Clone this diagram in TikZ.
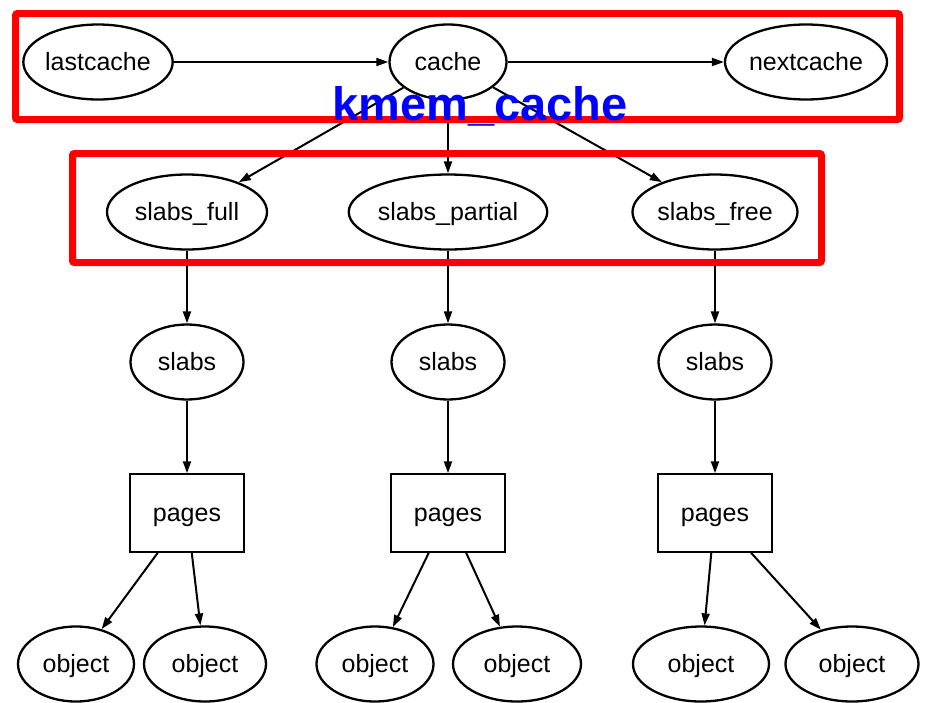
\documentclass[tikz,border=0pt]{standalone}
\usepackage{fontspec}
\setmainfont{Liberation Sans}
\usetikzlibrary{shapes.geometric,arrows.meta}
\definecolor{boxred}{RGB}{255,0,0}
\definecolor{textblue}{RGB}{0,0,255}
\begin{document}
\begin{tikzpicture}[x=1pt,y=-1pt,
  lbl/.style={inner sep=0pt,text height=20pt,text depth=3pt,font=\fontsize{25}{25}\selectfont},
  el/.style={lbl,ellipse,draw,line width=2.3pt,minimum height=75pt},
  pg/.style={lbl,rectangle,draw,line width=1.5pt,minimum width=114pt,minimum height=78pt},
  edge/.style={line width=2pt,-{Triangle[length=12pt,width=8pt]}},
  redbox/.style={draw=boxred,line width=7pt,rounded corners=2pt}]
\useasboundingbox (0,0) rectangle (935,702);
% top row
\node[el,minimum width=146pt] (last) at (98,62) {lastcache};
\node[el,minimum width=117pt] (cache) at (448,62) {cache};
\node[el,minimum width=162pt] (next) at (806,62) {nextcache};
% slabs lists
\node[el,minimum width=160pt] (sfull) at (187,212) {slabs\_full};
\node[el,minimum width=195pt] (spart) at (448,212) {slabs\_partial};
\node[el,minimum width=165pt] (sfree) at (715,212) {slabs\_free};
% slabs
\node[el,minimum width=113pt] (s1) at (187,362) {slabs};
\node[el,minimum width=113pt] (s2) at (448,362) {slabs};
\node[el,minimum width=113pt] (s3) at (715,362) {slabs};
% pages
\node[pg] (p1) at (187,513) {pages};
\node[pg] (p2) at (448,513) {pages};
\node[pg] (p3) at (715,513) {pages};
% objects
\node[el,minimum width=116pt] (o1) at (76,664) {object};
\node[el,minimum width=122pt] (o2) at (205,664) {object};
\node[el,minimum width=117pt] (o3) at (375,664) {object};
\node[el,minimum width=128pt] (o4) at (517,664) {object};
\node[el,minimum width=136pt] (o5) at (701,664) {object};
\node[el,minimum width=133pt] (o6) at (852,664) {object};
% edges
\draw[edge] (last) -- (cache);
\draw[edge] (cache) -- (next);
\draw[edge] (cache) -- (sfull);
\draw[edge] (cache) -- (spart);
\draw[edge] (cache) -- (sfree);
\draw[edge] (sfull) -- (s1);
\draw[edge] (spart) -- (s2);
\draw[edge] (sfree) -- (s3);
\draw[edge] (s1) -- (p1);
\draw[edge] (s2) -- (p2);
\draw[edge] (s3) -- (p3);
\draw[edge] (p1) -- (o1);
\draw[edge] (p1) -- (o2);
\draw[edge] (p2) -- (o3);
\draw[edge] (p2) -- (o4);
\draw[edge] (p3) -- (o5);
\draw[edge] (p3) -- (o6);
% highlight boxes
\draw[redbox] (15.5,13.5) rectangle (899.5,119.5);
\draw[redbox] (72.5,153.5) rectangle (821.5,262.5);
\node[anchor=base,inner sep=0pt,text=textblue,font=\fontsize{47}{47}\selectfont\bfseries] (title) at (480,120) {kmem\_cache};
\end{tikzpicture}
\end{document}
